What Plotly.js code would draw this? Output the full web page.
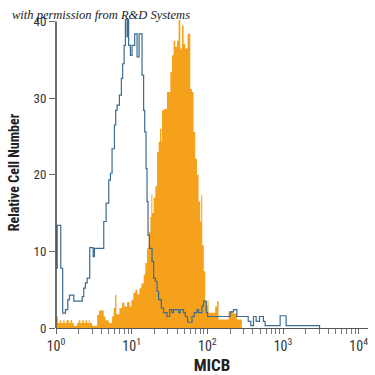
<!DOCTYPE html>
<html><head><meta charset="utf-8">
<script src="https://cdn.plot.ly/plotly-3.0.1.min.js"></script>
<style>html,body{margin:0;padding:0;background:#fff}#chart{width:375px;height:375px}</style>
</head><body><div id="chart"></div>
<script>
// Isotype control (blue outline histogram): step start positions and counts
const isotypeX = [1.01, 1.037, 1.156, 1.225, 1.334, 1.432, 1.507, 1.718, 2.218, 2.328,
  2.449, 2.582, 2.792, 3.097, 3.221, 4.276, 4.592, 4.977, 5.236, 5.508,
  5.916, 6.15, 6.412, 6.887, 7.311, 7.603, 7.943, 8.26, 8.69, 8.85,
  9.12, 9.62, 10.12, 10.96, 11.78, 12.53, 13.71, 14.39, 14.86, 15.49,
  15.96, 16.45, 17.14, 18.58, 19.50, 20.56, 21.63, 22.71, 24.66, 26.4,
  29.3, 31.7, 34.1, 35.8, 41.7, 43.9, 48.5, 51.1, 54.8, 62.7,
  67.1, 72.9, 76.6, 84.9, 89.1, 96.8, 100.7, 200.5, 221.8, 246,
  346.7, 375.8, 407, 441.6, 488.5, 551, 580.4, 916, 1099, 3041];
const isotypeY = [7.8, 13.4, 7.8, 1.95, 2.4, 3.7, 4.3, 3.5, 4.1, 5.2,
  5.9, 6.5, 10.5, 9.3, 10.4, 13.9, 16.3, 19.3, 20.2, 23.4,
  26.5, 28.4, 29.1, 30.4, 32.6, 34.5, 36.9, 40.3, 38, 40.3,
  36.9, 35.6, 36.9, 38.4, 35.4, 38.4, 33, 28.4, 25.6, 20.8,
  16.5, 12.1, 10.4, 8.7, 6.5, 6.1, 4.8, 3.7, 2.6, 2.0,
  1.5, 2.4, 2.0, 2.4, 2.0, 2.4, 2.0, 1.5, 0.75, 1.5,
  2.0, 2.4, 2.0, 2.9, 3.5, 2.0, 1.5, 2.1, 2.4, 1.5,
  0.86, 0.3, 1.5, 0.86, 1.5, 0.86, 0.3, 1.6, 0.3, 0];

// MICB stained (orange filled histogram): step start positions and counts
const micbX = [1.015, 1.056, 1.122, 1.171, 1.245, 1.295, 1.376, 1.475, 1.553, 1.636,
  1.718, 1.905, 1.999, 2.105, 2.216, 2.327, 2.450, 2.579, 2.708, 2.792,
  3.003, 3.496, 3.693, 4.272, 4.498, 4.973, 5.512, 5.787, 6.039, 6.283,
  6.883, 7.468, 8.013, 8.698, 9.410, 9.908, 10.53, 11.19, 11.89, 12.64,
  13.43, 14.40, 15.16, 15.97, 16.76, 17.65, 18.19, 18.76, 19.51, 20.55,
  21.63, 22.71, 23.70, 24.65, 25.18, 26.43, 29.31, 32.40, 34.12, 35.82,
  37.72, 39.72, 41.71, 43.91, 46.24, 48.53, 51.10, 54.81, 59.49, 62.64,
  65.76, 69.25, 72.91, 76.55, 80.60, 83.09, 85.65, 89.64, 93.82, 98.2,
  100.6, 103.7, 127.1, 133.9, 140.5, 190.4, 217.7, 245.8, 286.1];
const micbY = [1.5, 0.65, 1.0, 0.65, 1.0, 0.65, 1.0, 0.65, 1.0, 0.65,
  0.3, 0.65, 1.0, 0.65, 1.0, 0.65, 1.0, 0.65, 1.0, 0.65,
  0.3, 1.7, 2.3, 1.5, 1.0, 0.65, 1.5, 2.6, 4.3, 1.8,
  2.6, 3.3, 2.8, 3.4, 2.8, 3.7, 4.6, 5.0, 4.4, 5.2,
  5.8, 7.0, 8.5, 10.4, 12.5, 14.5, 17.4, 15, 17, 18.5,
  23, 24.3, 26, 24.3, 28.4, 28.6, 30.8, 33.4, 35.6, 37.5,
  36.7, 37.5, 40.2, 36.5, 39.5, 37.1, 36.5, 38.4, 31.2, 30.8,
  25.6, 22.1, 20, 16.5, 13.9, 17.4, 10.8, 7.4, 3.5, 2.9,
  3.6, 2.0, 2.8, 3.5, 1.1, 2.2, 1.9, 1.1, 0];

const xTickVals = [1, 10, 100, 1000, 10000];
const xTickLabels = ['10<sup>0</sup>', '10<sup>1</sup>', '10<sup>2</sup>', '10<sup>3</sup>', '10<sup>4</sup>'];
const xMinorVals = [2,3,4,5,6,7,8,9, 20,30,40,50,60,70,80,90, 200,300,400,500,600,700,800,900, 2000,3000,4000,5000,6000,7000,8000,9000];
const yTickVals = [0, 10, 20, 30, 40];
const yTickLabels = ['0', '10', '20', '30', '40'];
const xTitle = 'MICB';
const yTitle = 'Relative Cell Number';
const creditText = 'with permission from R&amp;D Systems';

const FONT = '"Liberation Sans Narrow", "Roboto Condensed", "Arial Narrow", "DejaVu Sans Condensed", sans-serif';
const ORANGE = '#f5a11c';
const BLUE = '#3e6c8e';

const traces = [
  {x: micbX, y: micbY, type: 'scatter', mode: 'lines', fill: 'tozeroy',
   fillcolor: ORANGE, line: {shape: 'hv', width: 0, color: ORANGE}, hoverinfo: 'skip'},
  {x: isotypeX, y: isotypeY, type: 'scatter', mode: 'lines',
   line: {shape: 'hv', width: 1.2, color: BLUE}, hoverinfo: 'skip'}
];

const layout = {
  width: 375, height: 375,
  margin: {l: 55.5, r: 7, t: 16.5, b: 46.7, pad: 0},
  paper_bgcolor: '#ffffff', plot_bgcolor: '#ffffff',
  showlegend: false,
  font: {family: FONT, color: '#333'},
  xaxis: {
    type: 'log', range: [0, 4.123], automargin: false,
    tickmode: 'array', tickvals: xTickVals, ticktext: xTickLabels,
    ticks: 'outside', ticklen: 5, tickcolor: '#666', tickwidth: 1,
    showline: true, linecolor: '#555', linewidth: 1.2,
    showgrid: false, zeroline: false,
    minor: {tickmode: 'array', tickvals: xMinorVals, ticks: 'outside', ticklen: 5, tickcolor: '#777', tickwidth: 1, showgrid: false},
    tickfont: {family: FONT, size: 14, color: '#333'},
    title: {text: xTitle, font: {family: FONT, size: 17, color: '#222', weight: 'bold'}, standoff: 6}
  },
  yaxis: {
    range: [0, 40.6], automargin: false,
    tickmode: 'array', tickvals: yTickVals, ticktext: yTickLabels,
    ticks: 'outside', ticklen: 6, tickcolor: '#666', tickwidth: 1,
    showline: false, showgrid: false, zeroline: false,
    tickfont: {family: FONT, size: 13, color: '#333'},
    title: {text: yTitle, font: {family: FONT, size: 14, color: '#222', weight: 'bold'}, standoff: 10}
  },
  shapes: [{type: 'line', xref: 'paper', yref: 'y', x0: 0, x1: 0, y0: 0, y1: 40,
            line: {color: '#222', width: 1.3}}],
  annotations: [{text: creditText, xref: 'paper', yref: 'paper',
    x: -0.147, y: 1.005, xanchor: 'left', yanchor: 'middle', showarrow: false,
    font: {family: '"Liberation Serif", "DejaVu Serif", serif', size: 12.5, style: 'italic', color: '#222'}}]
};

Plotly.newPlot('chart', traces, layout, {staticPlot: true, displayModeBar: false});
</script>
</body></html>
